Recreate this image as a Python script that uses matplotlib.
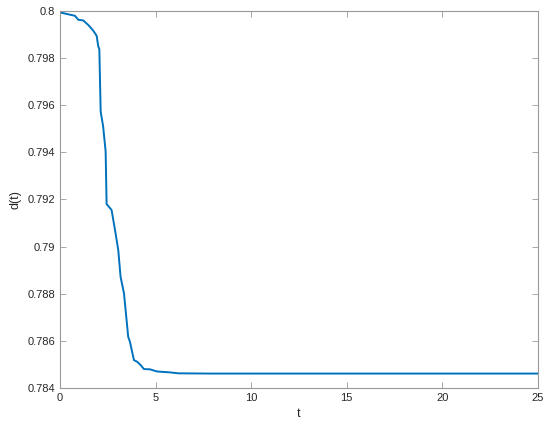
import numpy as np
import matplotlib
matplotlib.use("Agg")
import matplotlib.pyplot as plt

# values
t = [0, 0.78, 0.96, 1.22, 1.48, 1.74, 1.92, 2.0, 2.06, 2.13, 2.26, 2.39, 2.44,
     2.70, 2.88, 3.05, 3.17, 3.35, 3.57, 3.66, 3.87, 4.04, 4.22, 4.39, 4.71,
     5.06, 5.75, 6.19, 7.85, 25]
d = [0.79993, 0.79979, 0.79962, 0.79959, 0.7994, 0.79916, 0.79894, 0.79851,
     0.79837, 0.79572, 0.79509, 0.79403, 0.7918, 0.79155, 0.7907, 0.78985,
     0.78872, 0.78801, 0.78617, 0.78596, 0.78518, 0.78511, 0.78497, 0.7848,
     0.78479, 0.7847, 0.78466, 0.78462, 0.78461, 0.78461]

xticks = [0, 5, 10, 15, 20, 25]
yticks = [0.784, 0.786, 0.788, 0.79, 0.792, 0.794, 0.796, 0.798, 0.8]
ytick_labels = ["0.784", "0.786", "0.788", "0.79", "0.792", "0.794", "0.796", "0.798", "0.8"]

plt.rcParams['font.family'] = ['Liberation Sans', 'DejaVu Sans']
plt.rcParams['font.size'] = 8

fig = plt.figure(figsize=(5.5, 4.32), dpi=100)
ax = fig.add_axes([0.109, 0.102, 0.869, 0.873])
ax.plot(t, d, color='#0072BD', lw=1.4)

ax.set_xlim(0, 25)
ax.set_ylim(0.784, 0.8)
ax.set_xticks(xticks)
ax.set_yticks(yticks)
ax.set_yticklabels(ytick_labels)
ax.set_xlabel('t', fontsize=9, color='#262626')
ax.set_ylabel('d(t)', fontsize=9, color='#262626')
ax.tick_params(direction='in', top=True, right=True, length=4, width=0.6,
               color='#999999', labelcolor='#262626', labelsize=8)
for s in ax.spines.values():
    s.set_color('#999999')
    s.set_linewidth(0.8)

fig.savefig('out.png', dpi=100)
